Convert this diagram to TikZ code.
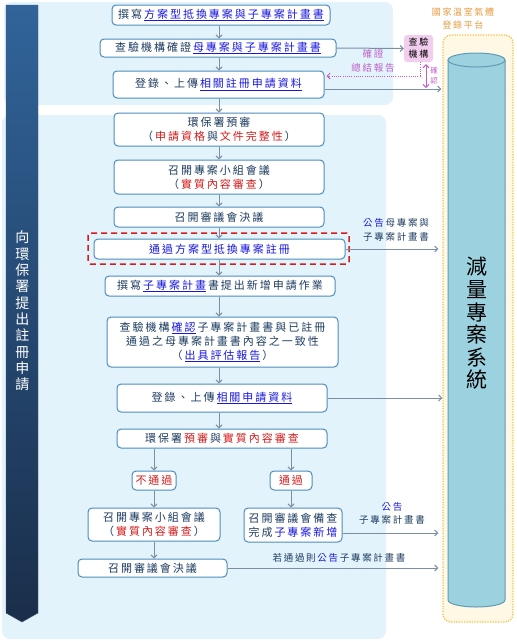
\documentclass[tikz,border=0pt]{standalone}
\usepackage{fontspec}
\setmainfont{Noto Sans CJK TC}[LetterSpace=18]
\usetikzlibrary{arrows.meta}
\definecolor{panelblue}{HTML}{E3F3FC}
\definecolor{boxline}{HTML}{4B8CBC}
\definecolor{txtdark}{HTML}{1D3C60}
\definecolor{txtred}{HTML}{D41C1C}
\definecolor{txtblue}{HTML}{1818E0}
\definecolor{arrgray}{HTML}{7C8EA6}
\definecolor{purp}{HTML}{C060C6}
\definecolor{pinkbox}{HTML}{F2CEEE}
\definecolor{orangetxt}{HTML}{E6983A}
\definecolor{platfill}{HTML}{FFF8E4}
\definecolor{platline}{HTML}{F4C24A}
\definecolor{cylfill}{HTML}{9CD2DF}
\definecolor{cylline}{HTML}{5E9BB6}
\definecolor{bartop}{HTML}{31649A}
\definecolor{barbot}{HTML}{1A2E4A}
\newcommand{\gap}{\kern0.18em}
\newcommand{\linktxt}[1]{\textcolor{txtblue}{\underline{#1}}}
\newcommand{\redtxt}[1]{\textcolor{txtred}{#1}}
\newcommand{\bluetxt}[1]{\textcolor{txtblue}{#1}}
\tikzset{
	flowbox/.style={draw=boxline, fill=white, line width=1pt, rounded corners=4pt, inner sep=0pt, align=center, text=txtdark, font=\fontsize{11}{14}\selectfont},
	flowarr/.style={draw=arrgray, line width=1pt, -{Straight Barb[length=3pt,width=6pt]}},
	purparr/.style={draw=purp, line width=1pt, {Straight Barb[length=3pt,width=6pt]}-{Straight Barb[length=3pt,width=6pt]}},
	notetxt/.style={font=\fontsize{9.5}{13.5}\selectfont, text=txtdark, align=center, inner sep=0pt},
}
\begin{document}
\begin{tikzpicture}[x=1pt, y=-1pt]
			%%%%% START %%%%%
			\useasboundingbox (0,0) rectangle (517,641);
			
			\fill[panelblue, rounded corners=8pt] (4,2) rectangle (393,105);
			\fill[panelblue, rounded corners=8pt] (2,115) rectangle (386,639);
			
			\shade[top color=bartop, bottom color=barbot, draw=barbot!80] (6,5) -- (38,5) -- (38,613) -- (22,622) -- (6,613) -- cycle;
			\node[text=white, align=center, inner sep=0pt, font=\fontsize{14}{16.3}\selectfont] (bartext) at (22.5,311) {向\\環\\保\\署\\提\\出\\註\\冊\\申\\請};
			
			\node[text=orangetxt, align=center, inner sep=0pt, font=\fontsize{9}{13}\selectfont] (plattitle) at (463,18.5) {國家溫室氣體\\登錄平台};
			\node[draw=platline, fill=platfill, line width=1.3pt, dash pattern=on 1.3pt off 1.3pt, rounded corners=8pt, minimum width=70pt, minimum height=587pt] (plat) at (478,328.5) {};
			
			\fill[cylfill] (448,60) -- (448,600) arc[start angle=180, end angle=360, x radius=28.5pt, y radius=7pt] -- (505,60) -- cycle;
			\draw[cylline, line width=1pt] (448,60) -- (448,600) arc[start angle=180, end angle=360, x radius=28.5pt, y radius=7pt] -- (505,60);
			\draw[cylline, fill=cylfill, line width=1pt] (476.5,60) ellipse [x radius=28.5pt, y radius=7pt];
			\node[align=center, inner sep=0pt, font=\fontsize{21}{22.6}\selectfont] (systext) at (476.5,323.5) {減\\量\\專\\案\\系\\統};
			
			% main column
			\node[flowbox, minimum width=218pt, minimum height=20pt] (write) at (221,15) {撰寫\gap{}\linktxt{方案型抵換專案與子專案計畫書}};
			\node[flowbox, minimum width=236pt, minimum height=18pt] (verify) at (218,48) {查驗機構確證\gap{}\linktxt{母專案與子專案計畫書}};
			\node[flowbox, minimum width=211pt, minimum height=27pt] (upload) at (218.5,84.5) {登錄、上傳\gap{}\linktxt{相關註冊申請資料}};
			\node[flowbox, minimum width=210pt, minimum height=33pt] (prerev) at (219,129.5) {環保署預審\\（\gap{}\redtxt{申請資格}\gap{}與\gap{}\redtxt{文件完整性}\gap{}）};
			\node[flowbox, minimum width=210pt, minimum height=34pt] (panel) at (219,177) {召開專案小組會議\\（\gap{}\redtxt{實質內容審查}\gap{}）};
			\node[flowbox, minimum width=210pt, minimum height=20pt] (council) at (219,217) {召開審議會決議};
			\node[draw=txtred, line width=1.5pt, dash pattern=on 6pt off 4pt, rounded corners=2pt, minimum width=261pt, minimum height=31pt] (regframe) at (218.5,248.5) {};
			\node[flowbox, minimum width=251pt, minimum height=20pt, text=txtblue] (reg) at (219.5,249) {通過方案型抵換專案註冊};
			\node[flowbox, minimum width=230pt, minimum height=20pt] (subwrite) at (220,286) {撰寫\gap{}\linktxt{子專案計畫}\gap{}書提出新增申請作業};
			\node[flowbox, minimum width=231pt, minimum height=50pt] (subverify) at (222.5,342) {查驗機構\gap{}\linktxt{確認}\gap{}子專案計畫書與已註冊\\通過之母專案計畫書內容之一致性\\（\gap{}\linktxt{出具評估報告}\gap{}）};
			\node[flowbox, minimum width=210pt, minimum height=28pt] (subupload) at (222,398) {登錄、上傳\gap{}\linktxt{相關申請資料}};
			\node[flowbox, minimum width=210pt, minimum height=19pt] (subrev) at (222,438.5) {環保署\gap{}\redtxt{預審}\gap{}與\gap{}\redtxt{實質內容審查}};
			
			% branches
			\node[flowbox, minimum width=44pt, minimum height=19pt, text=txtred] (fail) at (154,480.5) {不通過};
			\node[flowbox, minimum width=42pt, minimum height=19pt, text=txtred] (pass) at (291,480.5) {通過};
			\node[flowbox, minimum width=132pt, minimum height=33pt] (failpanel) at (154,524.5) {召開專案小組會議\\（\gap{}\redtxt{實質內容審查}\gap{}）};
			\node[flowbox, minimum width=98pt, minimum height=34pt] (passcouncil) at (293,525) {召開審議會備查\\完成\gap{}\bluetxt{子專案新增}};
			\node[flowbox, minimum width=149pt, minimum height=18pt] (failcouncil) at (152.5,568) {召開審議會決議};
			
			\node[fill=pinkbox, rounded corners=3pt, minimum width=29pt, minimum height=27pt, inner sep=0pt, align=center, font=\fontsize{9}{12}\selectfont] (insp) at (418.5,48.5) {查驗\\機構};
			
			\coordinate (spine) at (219,0);
			\draw[flowarr] (spine |- write.south) -- (spine |- verify.north);
			\draw[flowarr] (spine |- verify.south) -- (spine |- upload.north);
			\draw[flowarr] (spine |- upload.south) -- (spine |- prerev.north);
			\draw[flowarr] (spine |- prerev.south) -- (spine |- panel.north);
			\draw[flowarr] (spine |- panel.south) -- (spine |- council.north);
			\draw[flowarr] (spine |- council.south) -- (spine |- reg.north);
			\draw[flowarr] (spine |- reg.south) -- (spine |- subwrite.north);
			\draw[flowarr] (spine |- subwrite.south) -- (spine |- subverify.north);
			\draw[flowarr] (spine |- subverify.south) -- (spine |- subupload.north);
			\draw[flowarr] (spine |- subupload.south) -- (spine |- subrev.north);
			\draw[flowarr] (fail.north |- subrev.south) -- (fail.north);
			\draw[flowarr] (pass.north |- subrev.south) -- (pass.north);
			\draw[flowarr] (fail.south) -- (fail.south |- failpanel.north);
			\draw[flowarr] (pass.south) -- (pass.south |- passcouncil.north);
			\draw[flowarr] (failpanel.south) -- (failpanel.south |- failcouncil.north);
			
			% to the registry
			\coordinate (upout) at ([yshift=-4.5pt]upload.east);
			\coordinate (passout) at ([yshift=-8pt]passcouncil.east);
			\draw[flowarr] (verify.east) -- (insp.west);
			\draw[flowarr, shorten >=1pt] (upout) -- (upout -| plat.west);
			\draw[flowarr, shorten >=4pt] (reg.east) -- (reg.east -| plat.west);
			\draw[flowarr] (subupload.east) -- (subupload.east -| plat.west);
			\draw[flowarr, shorten >=4pt] (passout) -- (passout -| plat.west);
			\draw[flowarr, shorten >=4pt] (failcouncil.east) -- (failcouncil.east -| plat.west);
			
			\draw[draw=purp, line width=1pt, dash pattern=on 1pt off 1.2pt, -{Straight Barb[length=3pt,width=6pt]}, shorten >=2pt] ([xshift=1.5pt]insp.south) |- ([yshift=8.5pt]upload.east);
			\draw[purparr, shorten <=2pt, shorten >=1pt] ([xshift=7.5pt]insp.south) -- ([xshift=7.5pt]insp.south |- upout);
			
			\node[notetxt, text=purp] (certnote) at (373,61) {確證\\總結報告};
			\node[notetxt, text=purp, font=\fontsize{7.5}{10}\selectfont] (confnote) at (434,75.5) {確\\認};
			\node[notetxt] (regnote) at (396,230) {\bluetxt{公告}\gap{}母專案與\\子專案計畫書};
			\node[notetxt] (passnote) at (392,513.5) {\bluetxt{公告}\\子專案計畫書};
			\node[notetxt] (failnote) at (339,558) {若通過則\gap{}\bluetxt{公告}\gap{}子專案計畫書};
			
			%%%%% END %%%%%
\end{tikzpicture}
\end{document}
